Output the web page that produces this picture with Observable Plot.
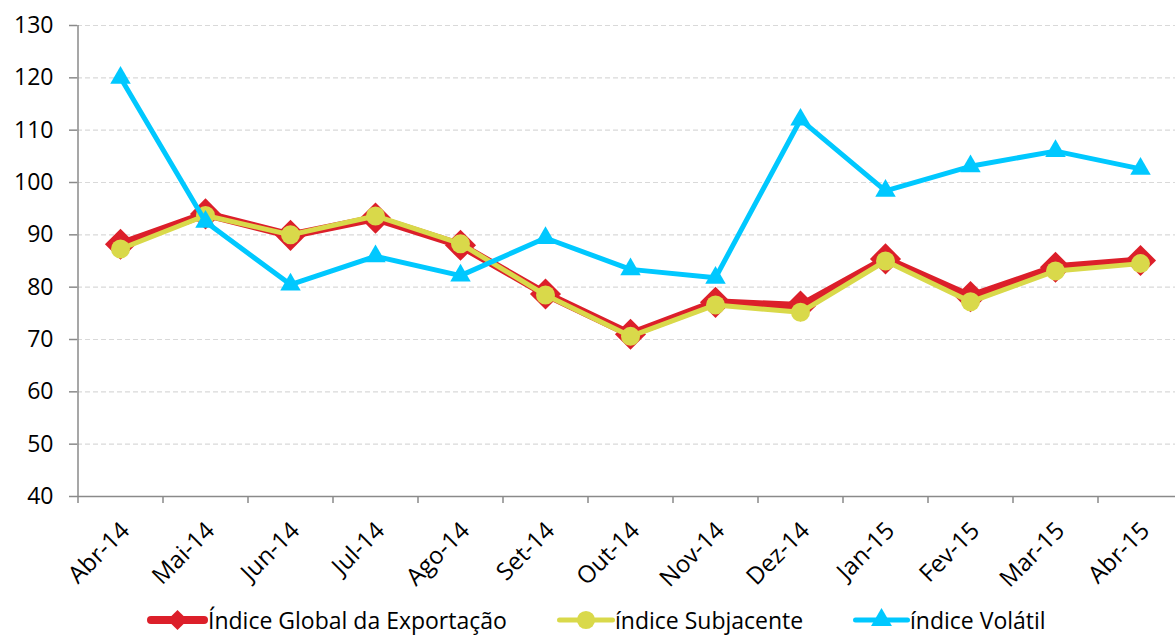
<!DOCTYPE html>
<html>
<head>
<meta charset="utf-8">
<script src="https://cdn.jsdelivr.net/npm/d3@7"></script>
<script src="https://cdn.jsdelivr.net/npm/@observablehq/plot@0.6"></script>
<style>
  body { margin: 0; background: #fff; font-family: "Open Sans", Lato, sans-serif; }
  #wrap { position: relative; width: 1175px; height: 637px; overflow: hidden; }
  #legend { position: absolute; left: 0; top: 602px; width: 1175px; height: 35px; }
  .item { position: absolute; top: 0; height: 36px; display: flex; align-items: center; font-size: 23px; color: #000; white-space: nowrap; }
  .item span { line-height: 24px; }
  .item svg { display: block; }
</style>
</head>
<body>
<div id="wrap">
  <div id="chart"></div>
  <div id="legend"></div>
</div>
<script>
const months = ["Abr-14","Mai-14","Jun-14","Jul-14","Ago-14","Set-14","Out-14","Nov-14","Dez-14","Jan-15","Fev-15","Mar-15","Abr-15"];
const indiceGlobal = [88.2, 94.0, 89.9, 93.2, 88.0, 78.7, 71.0, 77.1, 76.4, 85.4, 78.2, 83.8, 85.1];
const indiceSubjacente = [87.3, 93.7, 90.0, 93.6, 88.3, 78.5, 70.6, 76.6, 75.2, 85.0, 77.2, 83.1, 84.5];
const indiceVolatil = [120.0, 92.5, 80.5, 85.9, 82.2, 89.4, 83.4, 81.8, 112.0, 98.4, 103.1, 106.0, 102.6];
const yTicks = [40, 50, 60, 70, 80, 90, 100, 110, 120, 130];
const seriesNames = ["Índice Global da Exportação", "índice Subjacente", "índice Volátil"];
const colors = ["#dc1f2a", "#d9d94a", "#00c8ff"];

const toRows = (vals) => months.map((m, i) => ({month: m, value: vals[i]}));
const rowsG = toRows(indiceGlobal);
const rowsS = toRows(indiceSubjacente);
const rowsV = toRows(indiceVolatil);

const chart = Plot.plot({
  width: 1175,
  height: 602,
  marginLeft: 77,
  marginRight: 0,
  marginTop: 25,
  marginBottom: 106,
  style: {fontFamily: "'Open Sans', Lato, sans-serif", background: "#fff", overflow: "visible"},
  x: {type: "point", domain: months, range: [119.5, 1139.5], padding: 0, label: null},
  y: {domain: [40, 130], label: null},
  marks: [
    Plot.gridY(yTicks.filter(v => v > 40), {stroke: "#d9d9d9", strokeOpacity: 1, strokeWidth: 1.2, strokeDasharray: "5,3"}),
    Plot.ruleY([40], {stroke: "#8a8a8a", strokeWidth: 1.5}),
    Plot.ruleX([months[0]], {y1: 40, y2: 130, dx: -42.5, stroke: "#8a8a8a", strokeWidth: 1.5}),
    Plot.axisY({ticks: yTicks, label: null, tickSize: 8, tickPadding: 16, fontSize: 23, stroke: "#8a8a8a", fill: "#000", strokeWidth: 1.5}),
    Plot.axisX({label: null, tickSize: 7, dx: -42.5, tickFormat: () => "", stroke: "#8a8a8a", strokeWidth: 1.5}),
    Plot.axisX({label: null, tickSize: 0, tickPadding: 30, dx: 5, tickRotate: -45, fontSize: 24, fill: "#000"}),
    Plot.line(rowsG, {x: "month", y: "value", stroke: colors[0], strokeWidth: 8}),
    Plot.dot(rowsG, {x: "month", y: "value", symbol: "diamond2", r: 14, fill: colors[0], stroke: "none"}),
    Plot.line(rowsS, {x: "month", y: "value", stroke: colors[1], strokeWidth: 5}),
    Plot.dot(rowsS, {x: "month", y: "value", symbol: "circle", r: 9.5, fill: colors[1], stroke: "none"}),
    Plot.line(rowsV, {x: "month", y: "value", stroke: colors[2], strokeWidth: 5}),
    Plot.dot(rowsV, {x: "month", y: "value", symbol: "triangle", r: 7.6, fill: colors[2], stroke: "none"})
  ]
});
document.getElementById("chart").appendChild(chart);

// Legend
const legend = document.getElementById("legend");
const legendPos = [147, 557, 853];
const swatchW = [61, 58, 57];
const legendSym = [d3.symbolDiamond2, d3.symbolCircle, d3.symbolTriangle];
const legendSize = [260, 260, 190];
const legendLW = [8, 5, 5];
seriesNames.forEach((name, i) => {
  const item = document.createElement("div");
  item.className = "item";
  item.style.left = legendPos[i] + "px";
  const w = swatchW[i];
  const svg = d3.create("svg").attr("width", w).attr("height", 36);
  svg.append("line").attr("x1", legendLW[i] / 2).attr("x2", w - legendLW[i] / 2).attr("y1", 18).attr("y2", 18)
    .attr("stroke", colors[i]).attr("stroke-width", legendLW[i]).attr("stroke-linecap", "round");
  svg.append("path").attr("d", d3.symbol(legendSym[i], legendSize[i])()).attr("transform", `translate(${w / 2},18)`).attr("fill", colors[i]);
  item.appendChild(svg.node());
  const span = document.createElement("span");
  span.textContent = name;
  item.appendChild(span);
  legend.appendChild(item);
});
</script>
</body>
</html>
